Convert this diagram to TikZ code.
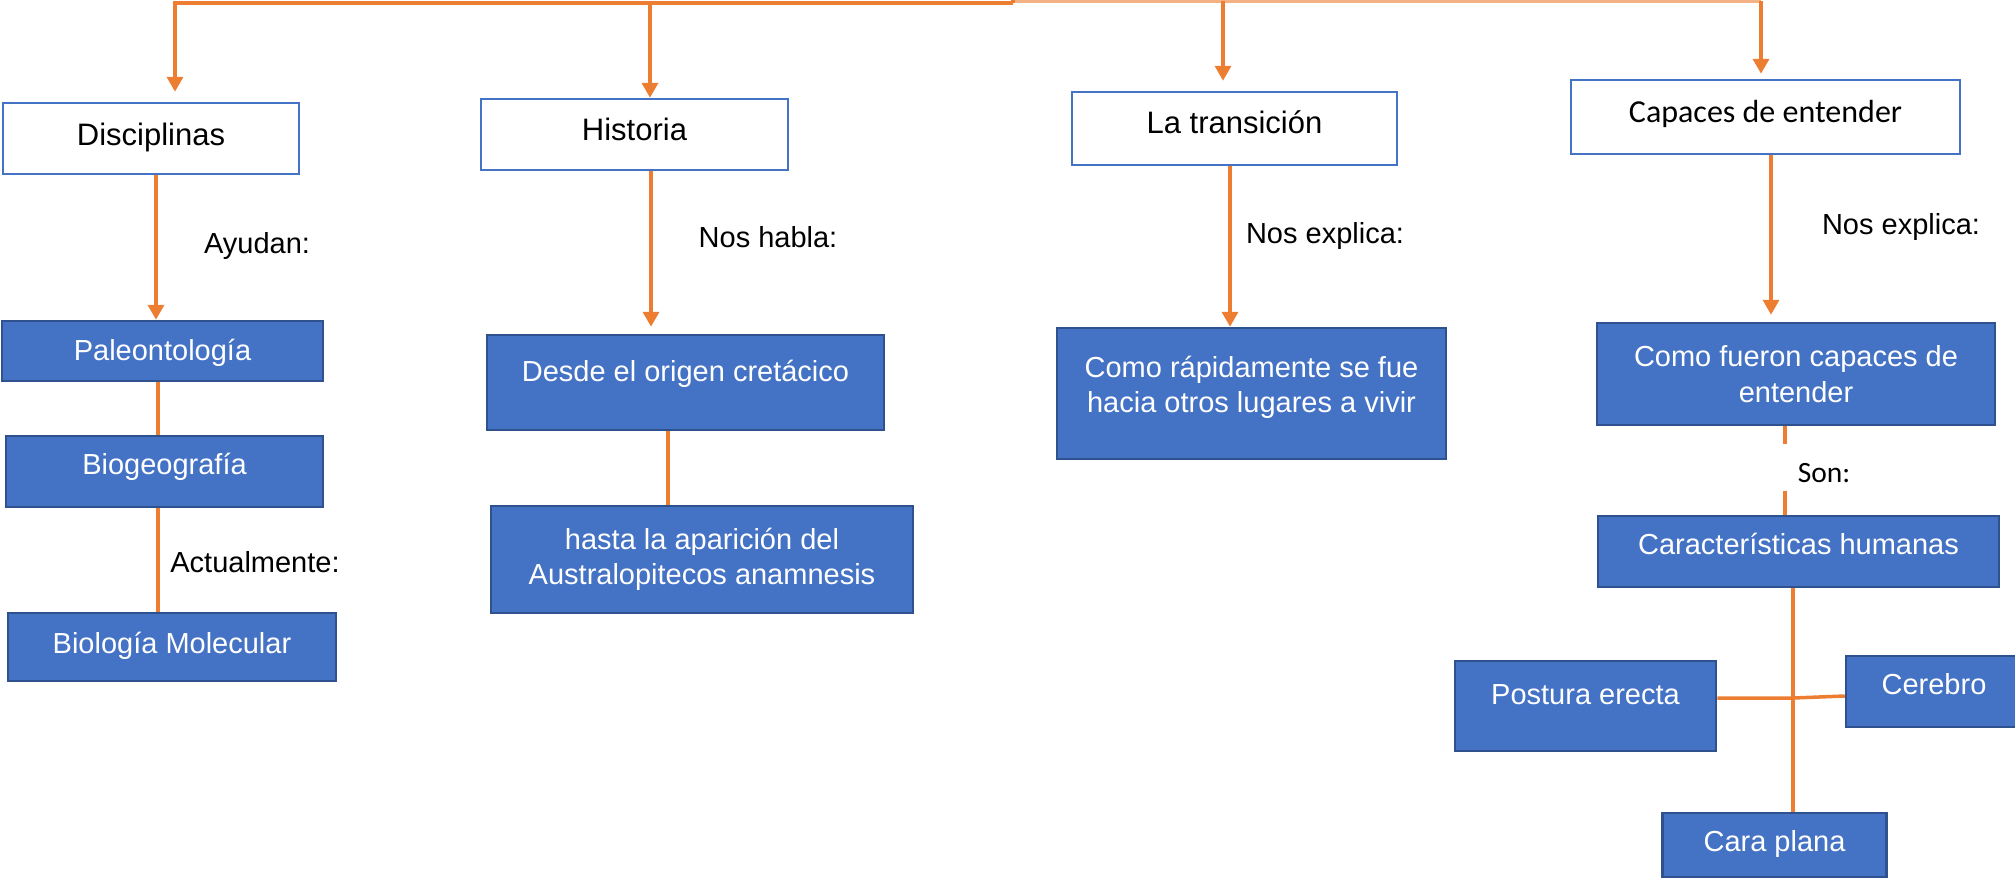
\documentclass[tikz,border=0pt]{standalone}
\usepackage{fontspec}
\setmainfont{Liberation Sans}
\newfontfamily\calibri{Carlito}
\usetikzlibrary{arrows.meta}

\definecolor{boxfill}{HTML}{4472C4}
\definecolor{boxline}{HTML}{2F528F}
\definecolor{headline}{HTML}{4472C4}
\definecolor{linkorange}{HTML}{ED7D31}
\definecolor{lightorange}{HTML}{F4B183}

\tikzset{
    headbox/.style={draw=headline, line width=2.5pt, fill=white, inner sep=4pt,
        font=\fontsize{31}{37}\selectfont},
    bluebox/.style={draw=boxline, line width=2.5pt, fill=boxfill, text=white, inner sep=4pt,
        align=center, font=\fontsize{29}{35.5}\selectfont},
    oneline/.style={text height=22pt, text depth=#1},
    link/.style={draw=linkorange, line width=3.5pt},
    arrowlink/.style={link, line join=miter, -{Triangle[length=15pt,width=16pt]}},
    linklabel/.style={font=\fontsize{29}{35}\selectfont, text height=22pt, text depth=6pt}
}

\begin{document}
\begin{tikzpicture}[x=1pt, y=-1pt]

    % Picture frame
    \useasboundingbox (0,0) rectangle (2015,879);

    % Header boxes
    \node[headbox, oneline=8.8pt, minimum width=296pt, minimum height=71pt] (disc) at (151,138.5) {Disciplinas};
    \node[headbox, oneline=10.8pt, minimum width=307pt, minimum height=71pt] (hist) at (634.5,134.5) {Historia};
    \node[headbox, oneline=11.8pt, minimum width=325pt, minimum height=73pt] (trans) at (1234.5,128.5) {La transición};
    \node[headbox, oneline=10.4pt, minimum width=389pt, minimum height=74pt,
        font=\calibri\fontsize{32}{38}\selectfont] (capaces) at (1765.5,117) {Capaces de entender};

    % Column 1
    \node[bluebox, oneline=2.2pt, minimum width=321pt, minimum height=60pt] (paleo) at (162.5,351) {Paleontología};
    \node[bluebox, oneline=15.2pt, minimum width=317pt, minimum height=71pt] (biogeo) at (164.5,471.5) {Biogeografía};
    \node[bluebox, oneline=9.2pt, minimum width=328pt, minimum height=68pt] (biomol) at (172,647) {Biología Molecular};

    % Column 2
    \node[bluebox, oneline=24.2pt, minimum width=397pt, minimum height=95pt] (desde) at (685.5,382.5) {Desde el origen cretácico};
    \node[bluebox, minimum width=422pt, minimum height=107pt] (hasta) at (702,559.5) {hasta la aparición del\\Australopitecos anamnesis};

    % Column 3
    \node[bluebox, text depth=18pt, minimum width=389pt, minimum height=131pt] (rapido) at (1251.5,393.5) {Como rápidamente se fue\\hacia otros lugares a vivir};

    % Column 4
    \node[bluebox, minimum width=398pt, minimum height=102pt] (fueron) at (1796,374) {Como fueron capaces de\\entender};
    \node[bluebox, oneline=16.2pt, minimum width=401pt, minimum height=71pt] (carac) at (1798.5,551.5) {Características humanas};
    \node[bluebox, oneline=24.2pt, minimum width=261pt, minimum height=90pt] (postura) at (1585.5,706) {Postura erecta};
    \node[bluebox, oneline=16.2pt, minimum width=176pt, minimum height=71pt] (cerebro) at (1934,691.5) {Cerebro};
    \node[bluebox, oneline=9.2pt, minimum width=224pt, minimum height=64pt] (caraplana) at (1774.5,845) {Cara plana};

    % Link labels
    \node[linklabel] (ayudan) at (257,245) {Ayudan:};
    \node[linklabel] (noshabla) at (768,239) {Nos habla:};
    \node[linklabel] (actual) at (255,564) {Actualmente:};
    \node[linklabel] (explicaA) at (1325,235) {Nos explica:};
    \node[linklabel] (explicaB) at (1901,226) {Nos explica:};
    \node[font=\calibri\fontsize{29.5}{35}\selectfont] (son) at (1824,473) {Son:};

    % Top bus
    \coordinate (busA) at (175,3);
    \coordinate (busB) at (1013,3);
    \coordinate (busC) at (1013,1);
    \coordinate (busD) at (1761,1);
    \draw[link, draw=lightorange] (busC) -- (busD);
    \draw[link] (1013,0) -- (busB);

    % Arrows down to the headers
    \draw[arrowlink, shorten >=10pt] (busB) -- (busA) -- (busA |- disc.north);
    \draw[arrowlink] (650,3) -- (hist.north -| 650,0);
    \draw[arrowlink, shorten >=10pt] (1223,1) -- (trans.north -| 1223,0);
    \draw[arrowlink, shorten >=5pt] (busD) -- (busD |- capaces.north);

    % Column 1 links
    \draw[arrowlink] (disc.south -| 156,0) -- (paleo.north -| 156,0);
    \draw[link] (paleo.south -| 158,0) -- (biogeo.north -| 158,0);
    \draw[link] (biogeo.south -| 158,0) -- (biomol.north -| 158,0);

    % Column 2 links
    \draw[arrowlink, shorten >=7pt] (hist.south -| 651,0) -- (desde.north -| 651,0);
    \draw[link] (desde.south -| 668,0) -- (hasta.north -| 668,0);

    % Column 3 link
    \draw[arrowlink] (trans.south -| 1230,0) -- (rapido.north -| 1230,0);

    % Column 4 links
    \draw[arrowlink, shorten >=7pt] (capaces.south -| 1771,0) -- (fueron.north -| 1771,0);
    \draw[link] (fueron.south -| 1785,0) -- ++(0,18);
    \draw[link] (carac.north -| 1785,0) -- ++(0,-24);
    \draw[link] (carac.south -| 1793,0) -- (caraplana.north -| 1793,0);
    \draw[link] (postura.east |- 0,698) -- (1793,698) -- (cerebro.west |- 0,696);

\end{tikzpicture}
\end{document}
